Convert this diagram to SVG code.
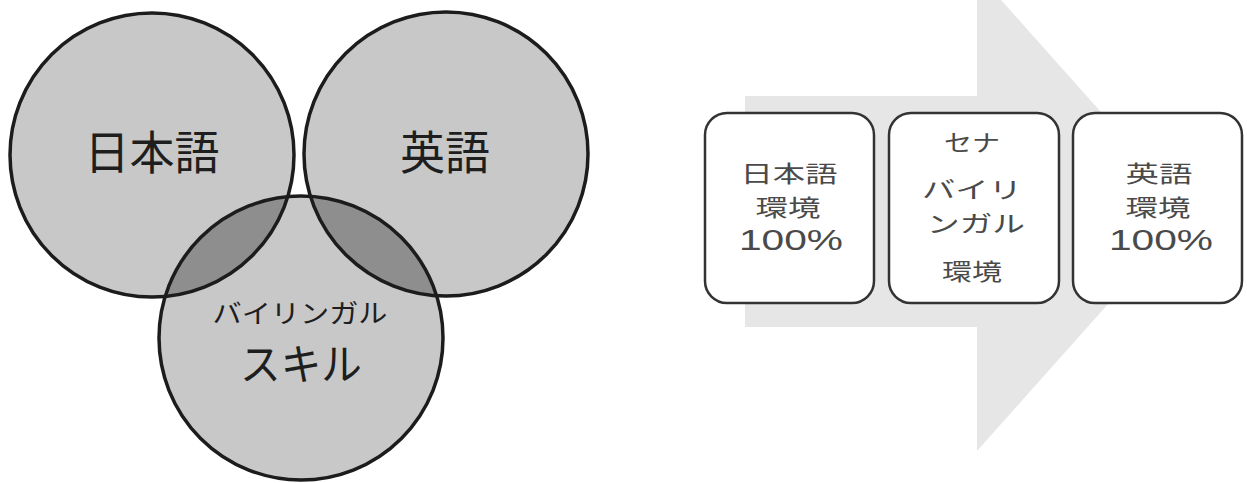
<svg xmlns="http://www.w3.org/2000/svg" width="1247" height="483" viewBox="0 0 1247 483">
  <defs>
    <clipPath id="clipLeft"><circle cx="152" cy="155" r="142"/></clipPath>
    <clipPath id="clipRight"><circle cx="446" cy="154" r="142"/></clipPath>
    <style>
      .cfill { fill: #c8c8c8; stroke: none; }
      .lens { fill: #8e8e8e; stroke: none; }
      .cline { fill: none; stroke: #1c1c1c; stroke-width: 3.5; }
      .ctext { font-family: "Noto Sans CJK JP", "Noto Sans", sans-serif; fill: #1e1e1e; text-anchor: middle; }
      .box { fill: #ffffff; stroke: #333333; stroke-width: 2.5; }
      .btext { font-family: "Noto Sans CJK JP", "Noto Sans", sans-serif; fill: #4a4a4a; text-anchor: middle; font-size: 23px; }
      .pct { font-family: "Liberation Sans", "Noto Sans", sans-serif; fill: #4a4a4a; text-anchor: middle; font-size: 29px; }
      .arrow { fill: #e6e6e6; stroke: none; }
    </style>
  </defs>
  <rect width="1247" height="483" fill="#ffffff"/>

  <!-- Venn diagram -->
  <g id="venn-fills">
    <circle class="cfill" cx="152" cy="155" r="142"/>
    <circle class="cfill" cx="446" cy="154" r="142"/>
    <circle class="cfill" cx="301" cy="338" r="142"/>
    <circle class="lens" cx="301" cy="338" r="142" clip-path="url(#clipLeft)"/>
    <circle class="lens" cx="301" cy="338" r="142" clip-path="url(#clipRight)"/>
  </g>
  <g id="node-japanese">
    <circle class="cline" cx="152" cy="155" r="142"/>
    <text class="ctext" x="152" y="169" font-size="46" textLength="135" lengthAdjust="spacingAndGlyphs">日本語</text>
  </g>
  <g id="node-english">
    <circle class="cline" cx="446" cy="154" r="142"/>
    <text class="ctext" x="445" y="169" font-size="46" textLength="90" lengthAdjust="spacingAndGlyphs">英語</text>
  </g>
  <g id="node-bilingual">
    <circle class="cline" cx="301" cy="338" r="142"/>
    <text class="ctext" x="300" y="323" font-size="26" textLength="175" lengthAdjust="spacingAndGlyphs">バイリンガル</text>
    <text class="ctext" x="301" y="380" font-size="43" textLength="122" lengthAdjust="spacingAndGlyphs">スキル</text>
  </g>

  <!-- Background flow arrow -->
  <g id="connectors">
    <polygon id="flow-arrow" class="arrow" points="745,96 977,96 977,-27 1190,212 977,451 977,327 745,327"/>
  </g>

  <g id="node-jp-env">
    <rect class="box" x="705" y="113" width="169" height="190" rx="22" ry="22"/>
    <text class="btext" x="789" y="182" textLength="97" lengthAdjust="spacingAndGlyphs">日本語</text>
    <text class="btext" x="788" y="216" textLength="65" lengthAdjust="spacingAndGlyphs">環境</text>
    <text class="pct" x="791" y="250" textLength="104" lengthAdjust="spacingAndGlyphs">100%</text>
  </g>
  <g id="node-sena">
    <rect class="box" x="889" y="113" width="170" height="190" rx="22" ry="22"/>
    <text class="btext" x="972" y="151" font-size="22" textLength="56" lengthAdjust="spacingAndGlyphs">セナ</text>
    <text class="btext" x="972" y="198" textLength="100" lengthAdjust="spacingAndGlyphs">バイリ</text>
    <text class="btext" x="976" y="232" textLength="98" lengthAdjust="spacingAndGlyphs">ンガル</text>
    <text class="btext" x="972" y="280" textLength="60" lengthAdjust="spacingAndGlyphs">環境</text>
  </g>
  <g id="node-en-env">
    <rect class="box" x="1073" y="113" width="169" height="190" rx="22" ry="22"/>
    <text class="btext" x="1159" y="182" textLength="67" lengthAdjust="spacingAndGlyphs">英語</text>
    <text class="btext" x="1158" y="216" textLength="65" lengthAdjust="spacingAndGlyphs">環境</text>
    <text class="pct" x="1161" y="250" textLength="104" lengthAdjust="spacingAndGlyphs">100%</text>
  </g>
</svg>
